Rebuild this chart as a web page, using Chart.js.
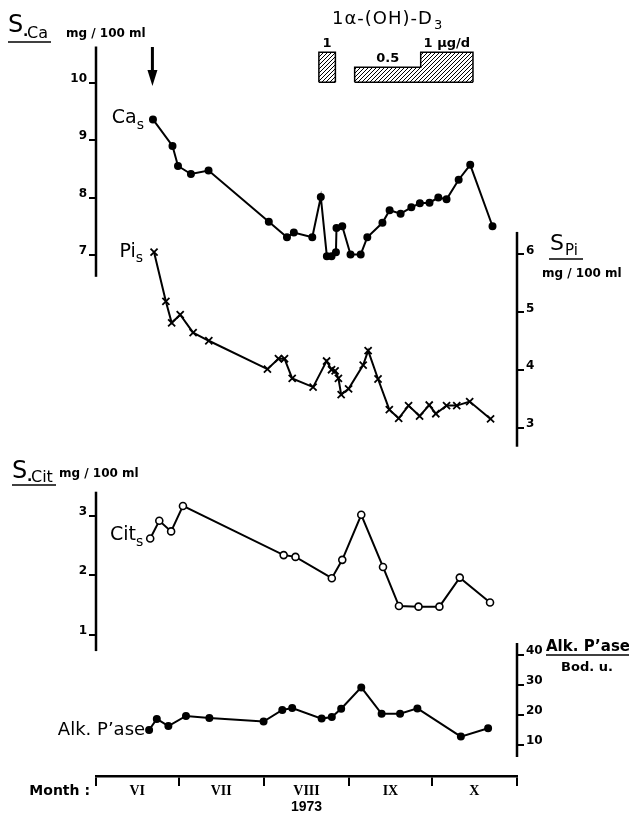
<!DOCTYPE html>
<html>
<head>
<meta charset="utf-8">
<title>Serum Ca, Pi, citrate and alkaline phosphatase, VI-X 1973</title>
<script src="https://cdn.jsdelivr.net/npm/chart.js@4.4.1/dist/chart.umd.min.js"></script>
<style>
  html, body { margin: 0; padding: 0; background: #fff; }
  #fig { display: block; }
</style>
</head>
<body>
<canvas id="fig" width="629" height="816"></canvas>
<script>
// x values are days counted from 1 June 1973
var monthEdges = [0, 30, 61, 92, 122, 153];
var monthLabels = ['VI', 'VII', 'VIII', 'IX', 'X'];

var caDays = [20.7, 27.8, 29.8, 34.5, 40.9, 62.8, 69.4, 71.9, 78.6, 81.7, 83.9, 85.6, 87.2, 87.4, 89.5,
              92.5, 96.2, 98.6, 104.1, 106.7, 110.7, 114.6, 117.7, 121.2, 124.4, 127.4, 131.8, 136.0, 144.1];
var caValues = [9.36, 8.90, 8.55, 8.41, 8.47, 7.58, 7.31, 7.39, 7.31, 8.01, 6.98, 6.98, 7.05, 7.47, 7.50,
                7.01, 7.01, 7.31, 7.56, 7.78, 7.72, 7.83, 7.90, 7.91, 8.00, 7.97, 8.31, 8.57, 7.50];

var piDays = [21.1, 25.4, 27.5, 30.6, 35.3, 41.0, 62.3, 66.3, 68.5, 71.3, 78.9, 83.8, 85.6, 86.9, 88.1,
              89.1, 91.8, 97.1, 98.9, 102.5, 106.6, 110.0, 113.6, 117.6, 121.1, 123.5, 127.4, 131.1, 135.8, 143.4];
var piValues = [6.04, 5.19, 4.82, 4.96, 4.65, 4.51, 4.02, 4.20, 4.20, 3.86, 3.71, 4.16, 4.01, 3.99, 3.86,
                3.58, 3.68, 4.09, 4.34, 3.85, 3.32, 3.17, 3.39, 3.21, 3.40, 3.25, 3.39, 3.39, 3.46, 3.16];

var citDays = [19.7, 23.0, 27.3, 31.6, 68.2, 72.5, 85.7, 89.5, 96.4, 104.3, 110.1, 117.2, 124.8, 132.2, 143.2];
var citValues = [2.62, 2.92, 2.74, 3.17, 2.34, 2.31, 1.95, 2.26, 3.02, 2.14, 1.48, 1.47, 1.47, 1.96, 1.54];

var alkDays = [19.3, 22.1, 26.3, 32.7, 41.2, 60.9, 67.7, 71.3, 82.0, 85.7, 89.1, 96.4, 103.8, 110.5, 116.8, 132.6, 142.5];
var alkValues = [15.0, 18.7, 16.3, 19.7, 19.0, 17.8, 21.7, 22.3, 18.8, 19.3, 22.1, 29.2, 20.4, 20.4, 22.2, 12.8, 15.6];

// 1alpha-(OH)-D3 dosage periods (ug/d)
var doseStart = [81, 94, 118];
var doseEnd = [87, 118, 137];
var doseValue = [1, 0.5, 1];
var doseLabels = ['1', '0.5', '1 μg/d'];
var arrowDay = 20.5;

var caTicks = [7, 8, 9, 10];
var piTicks = [3, 4, 5, 6];
var citTicks = [1, 2, 3];
var alkTicks = [10, 20, 30, 40];

// value range each drawn axis line covers
var caSpan = [6.62, 10.63];
var piSpan = [2.68, 6.39];
var citSpan = [0.72, 3.41];
var alkSpan = [6, 44];

var AREA_TOP = 10, AREA_BOTTOM = 776;
var SANS = '"DejaVu Sans"';

// every panel shares one plot area, so each y scale gets a range that puts its ticks where the panel sits
function scaleRange(v1, p1, v2, p2) {
    var k = (p2 - p1) / (v1 - v2);
    return { min: v2 - (AREA_BOTTOM - p2) / k, max: v1 + (p1 - AREA_TOP) / k };
}

function points(xs, ys) {
    return xs.map(function(x, i) { return { x: x, y: ys[i] }; });
}

// outline of the dosage blocks (tops and sides), filled down to zero
var doseOutline = [];
var doseBase = [];
var blockStart = null;
doseStart.forEach(function(s, i) {
    var joined = i > 0 && s === doseEnd[i - 1];
    if (!joined) {
        if (i > 0) {
            doseOutline.push({ x: doseEnd[i - 1], y: 0 }, { x: (doseEnd[i - 1] + s) / 2, y: null });
            doseBase.push({ x: blockStart, y: 0 }, { x: doseEnd[i - 1], y: 0 }, { x: (doseEnd[i - 1] + s) / 2, y: null });
        }
        blockStart = s;
        doseOutline.push({ x: s, y: 0 });
    }
    doseOutline.push({ x: s, y: doseValue[i] }, { x: doseEnd[i], y: doseValue[i] });
});
doseOutline.push({ x: doseEnd[doseEnd.length - 1], y: 0 });
doseBase.push({ x: blockStart, y: 0 }, { x: doseEnd[doseEnd.length - 1], y: 0 });

function hatch() {
    var c = document.createElement('canvas');
    c.width = 4; c.height = 4;
    var g = c.getContext('2d');
    g.strokeStyle = '#000';
    g.lineWidth = 1;
    g.beginPath();
    g.moveTo(0, 4); g.lineTo(4, 0);
    g.moveTo(-1, 1); g.lineTo(1, -1);
    g.moveTo(3, 5); g.lineTo(5, 3);
    g.stroke();
    return g.createPattern(c, 'repeat');
}

var tickFont = { family: 'DejaVu Sans', size: 12, weight: 'bold' };

function yAxis(pos, range, ticks) {
    return {
        type: 'linear',
        position: pos,
        min: range.min,
        max: range.max,
        afterBuildTicks: function(s) { s.ticks = ticks.map(function(v) { return { value: v }; }); },
        afterFit: function(s) { s.width = 0; },
        border: { display: false },
        grid: { drawOnChartArea: false, drawTicks: true, tickLength: 7, color: '#000', lineWidth: 2 },
        ticks: { color: '#000', font: tickFont, padding: 2, labelOffset: -4, autoSkip: false }
    };
}

var xTicks = monthEdges.slice();
var monthMids = [];
for (var m = 0; m < monthLabels.length; m++) {
    monthMids.push((monthEdges[m] + monthEdges[m + 1]) / 2);
}
xTicks = xTicks.concat(monthMids).sort(function(a, b) { return a - b; });

function subLabel(ctx, main, sub, xRight, yMid, size) {
    ctx.font = size + 'px ' + SANS;
    var wMain = ctx.measureText(main).width;
    ctx.font = Math.round(size * 0.72) + 'px ' + SANS;
    var wSub = ctx.measureText(sub).width;
    var x0 = xRight - wMain - wSub;
    ctx.textAlign = 'left';
    ctx.textBaseline = 'middle';
    ctx.font = size + 'px ' + SANS;
    ctx.fillText(main, x0, yMid);
    ctx.font = Math.round(size * 0.72) + 'px ' + SANS;
    ctx.fillText(sub, x0 + wMain, yMid + size * 0.35);
}

function underline(ctx, x1, x2, y) {
    ctx.lineWidth = 1.5;
    ctx.beginPath();
    ctx.moveTo(x1, y);
    ctx.lineTo(x2, y);
    ctx.stroke();
}

// zero-width y axes would clip their own tick labels; widen the clip box after layout
var labelRoom = {
    id: 'labelRoom',
    afterLayout: function(chart) {
        ['yCa', 'yCit'].forEach(function(id) { chart.scales[id].left = 0; });
        ['yPi', 'yAlk'].forEach(function(id) { chart.scales[id].right = chart.width; });
    }
};

var figureText = {
    id: 'figureText',
    afterDraw: function(chart) {
        var ctx = chart.ctx, s = chart.scales;
        ctx.save();
        ctx.fillStyle = '#000';
        ctx.strokeStyle = '#000';

        // axis lines, each only as long as its own panel
        [['yCa', caSpan], ['yPi', piSpan], ['yCit', citSpan], ['yAlk', alkSpan]].forEach(function(a) {
            var sc = s[a[0]];
            var x = sc.position === 'left' ? sc.right : sc.left;
            ctx.lineWidth = 2.5;
            ctx.beginPath();
            ctx.moveTo(x, sc.getPixelForValue(a[1][0]));
            ctx.lineTo(x, sc.getPixelForValue(a[1][1]));
            ctx.stroke();
        });

        // start-of-treatment arrow
        var ax = s.x.getPixelForValue(arrowDay);
        ctx.lineWidth = 3;
        ctx.beginPath();
        ctx.moveTo(ax, 47);
        ctx.lineTo(ax, 72);
        ctx.stroke();
        ctx.beginPath();
        ctx.moveTo(ax - 5, 70);
        ctx.lineTo(ax + 5, 70);
        ctx.lineTo(ax, 86);
        ctx.closePath();
        ctx.fill();

        // dosage labels
        ctx.textAlign = 'center';
        ctx.textBaseline = 'alphabetic';
        ctx.font = 'bold 13px ' + SANS;
        doseLabels.forEach(function(t, i) {
            var cx = s.x.getPixelForValue((doseStart[i] + doseEnd[i]) / 2);
            var cy = s.yDose.getPixelForValue(doseValue[i]) - 5;
            ctx.fillText(t, cx, cy);
        });
        ctx.font = '18px ' + SANS;
        ctx.textAlign = 'left';
        ctx.letterSpacing = '1px';
        var head = '1α-(OH)-D';
        var hw = ctx.measureText(head).width;
        ctx.fillText(head, 332, 24);
        ctx.letterSpacing = '0px';
        ctx.font = '13px ' + SANS;
        ctx.fillText('3', 332 + hw + 1, 29);

        // S.Ca header
        ctx.textAlign = 'left';
        ctx.font = '24px ' + SANS;
        ctx.fillText('S', 8, 32);
        ctx.font = 'bold 14px ' + SANS;
        ctx.fillText('.', 23, 36);
        ctx.font = '16px ' + SANS;
        ctx.fillText('Ca', 27, 38);
        underline(ctx, 8, 51, 42);
        ctx.font = 'bold 12px ' + SANS;
        ctx.fillText('mg / 100 ml', 66, 37);

        // S Pi header
        ctx.font = '22px ' + SANS;
        ctx.fillText('S', 550, 250);
        ctx.font = '15px ' + SANS;
        ctx.fillText('Pi', 565, 255);
        underline(ctx, 549, 583, 259);
        ctx.font = 'bold 12px ' + SANS;
        ctx.fillText('mg / 100 ml', 542, 277);

        // S.Cit header
        ctx.font = '24px ' + SANS;
        ctx.fillText('S', 12, 478);
        ctx.font = 'bold 14px ' + SANS;
        ctx.fillText('.', 27, 481);
        ctx.font = '16px ' + SANS;
        ctx.fillText('Cit', 31, 482);
        underline(ctx, 12, 56, 485);
        ctx.font = 'bold 12px ' + SANS;
        ctx.fillText('mg / 100 ml', 59, 477);

        // Alk. P'ase header
        ctx.font = 'bold 15px ' + SANS;
        ctx.fillText('Alk. P\u2019ase', 546, 651);
        underline(ctx, 546, 629, 655);
        ctx.textAlign = 'center';
        ctx.font = 'bold 13px ' + SANS;
        ctx.fillText('Bod. u.', 587, 671);

        // series labels next to their first point
        var p;
        p = chart.getDatasetMeta(0).data[0];
        subLabel(ctx, 'Ca', 's', p.x - 9, p.y - 1, 19);
        p = chart.getDatasetMeta(1).data[0];
        subLabel(ctx, 'Pi', 's', p.x - 11, p.y, 19);
        p = chart.getDatasetMeta(2).data[0];
        subLabel(ctx, 'Cit', 's', p.x - 7, p.y - 3, 19);
        p = chart.getDatasetMeta(3).data[0];
        ctx.font = '18px ' + SANS;
        ctx.textAlign = 'right';
        ctx.textBaseline = 'middle';
        ctx.fillText('Alk. P\u2019ase', p.x - 4, p.y);

        ctx.font = 'bold 14px ' + SANS;
        ctx.fillText('Month :', 90, 791);
        ctx.restore();
    }
};

var lineStyle = { borderColor: '#000', borderWidth: 2, tension: 0, pointBorderColor: '#000' };

new Chart(document.getElementById('fig'), {
    type: 'line',
    data: {
        datasets: [
            Object.assign({ label: 'Ca', data: points(caDays, caValues), yAxisID: 'yCa',
                pointStyle: 'circle', pointRadius: 3, pointBackgroundColor: '#000' }, lineStyle),
            Object.assign({ label: 'Pi', data: points(piDays, piValues), yAxisID: 'yPi',
                pointStyle: 'crossRot', pointRadius: 5, pointBorderWidth: 1.8 }, lineStyle),
            Object.assign({ label: 'Cit', data: points(citDays, citValues), yAxisID: 'yCit',
                pointStyle: 'circle', pointRadius: 3.5, pointBorderWidth: 1.6, pointBackgroundColor: '#fff' }, lineStyle),
            Object.assign({ label: 'Alk', data: points(alkDays, alkValues), yAxisID: 'yAlk',
                pointStyle: 'circle', pointRadius: 3, pointBackgroundColor: '#000' }, lineStyle),
            { label: 'dose', data: doseOutline, yAxisID: 'yDose', borderColor: '#000', borderWidth: 1.5,
              backgroundColor: hatch(), fill: 'origin', pointRadius: 0, tension: 0 },
            { label: 'dose base', data: doseBase, yAxisID: 'yDose', borderColor: '#000', borderWidth: 1.5,
              pointRadius: 0, fill: false }
        ]
    },
    options: {
        responsive: false,
        animation: false,
        devicePixelRatio: 1,
        layout: { padding: { left: 96, right: 112, top: AREA_TOP, bottom: 0 }, autoPadding: false },
        plugins: { legend: { display: false }, tooltip: { enabled: false } },
        scales: {
            x: {
                type: 'linear',
                min: monthEdges[0],
                max: monthEdges[monthEdges.length - 1],
                afterBuildTicks: function(s) { s.ticks = xTicks.map(function(v) { return { value: v }; }); },
                afterFit: function(s) { s.height = 816 - AREA_BOTTOM; },
                border: { display: true, color: '#000', width: 2.5 },
                grid: {
                    drawOnChartArea: false, drawTicks: true, tickLength: 10, lineWidth: 2,
                    color: function(c) { return c.tick && monthEdges.indexOf(c.tick.value) >= 0 ? '#000' : 'rgba(0,0,0,0)'; }
                },
                ticks: {
                    autoSkip: false, maxRotation: 0, padding: -3, color: '#000',
                    font: { family: 'Liberation Serif', size: 14, weight: 'bold' },
                    callback: function(v) {
                        var i = monthMids.indexOf(v);
                        return i >= 0 ? monthLabels[i] : '';
                    }
                },
                title: { display: true, text: '1973', color: '#000', padding: 0,
                         font: { family: 'Liberation Sans', size: 14, weight: 'bold' } }
            },
            yCa: yAxis('left', scaleRange(10, 82.7, 7, 255), caTicks),
            yCit: yAxis('left', scaleRange(3, 516, 1, 634.5), citTicks),
            yPi: yAxis('right', scaleRange(6, 254.5, 3, 428.2), piTicks),
            yAlk: yAxis('right', scaleRange(40, 655, 10, 745), alkTicks),
            yDose: Object.assign({ type: 'linear', display: false }, scaleRange(1, 52.3, 0, 82.3))
        }
    },
    plugins: [labelRoom, figureText]
});
</script>
</body>
</html>
